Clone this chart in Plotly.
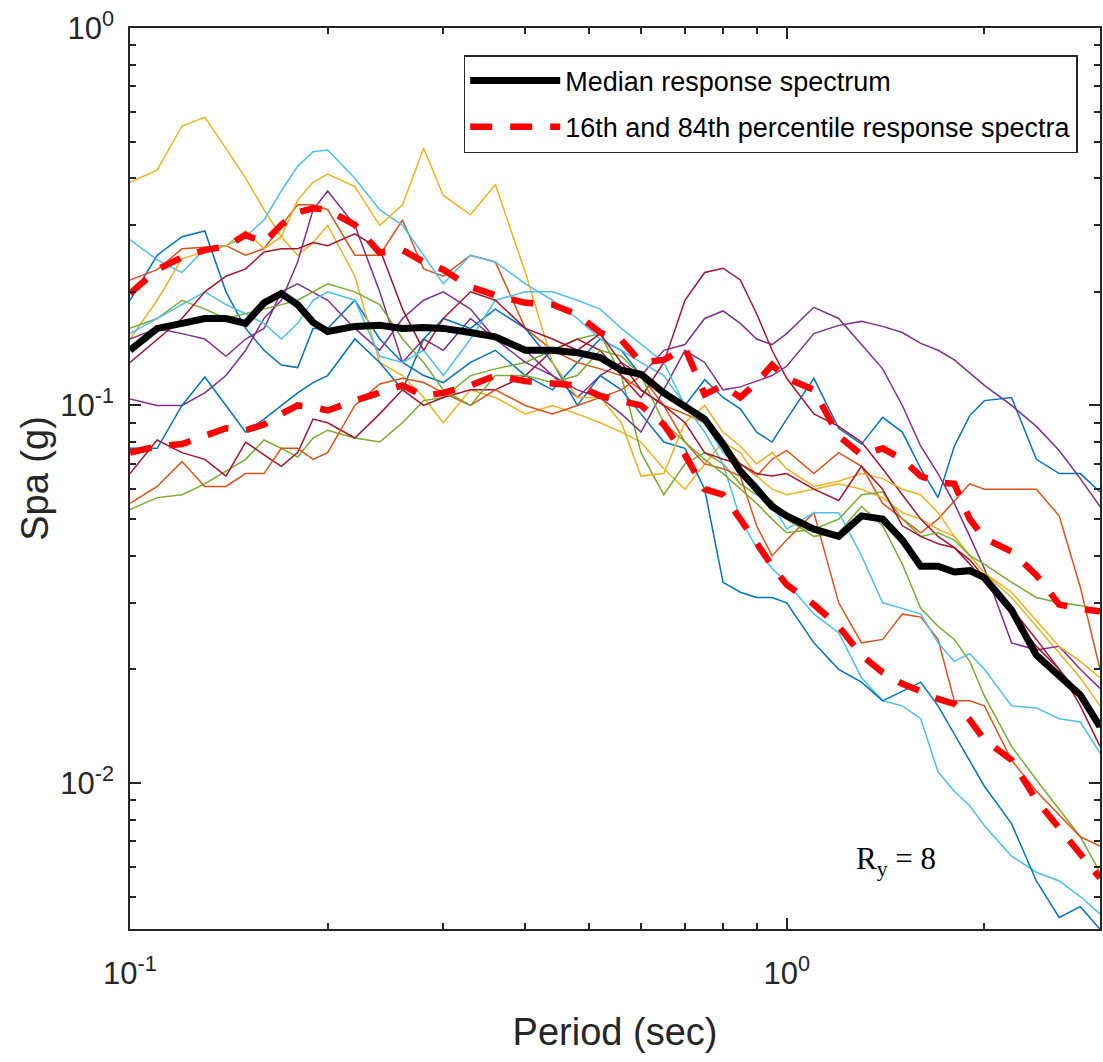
import plotly.graph_objects as go

# periods (sec)
periods = [0.10, 0.11, 0.12, 0.13, 0.14, 0.15, 0.16, 0.17, 0.18, 0.19, 0.20, 0.22, 0.24, 0.26, 0.28,
           0.30, 0.33, 0.36, 0.40, 0.44, 0.48, 0.52, 0.56, 0.60, 0.65, 0.70, 0.75, 0.80, 0.85, 0.90,
           0.95, 1.0, 1.1, 1.2, 1.3, 1.4, 1.5, 1.6, 1.7, 1.8, 1.9, 2.0, 2.2, 2.4, 2.6, 2.8, 3.0]

# individual record spectra, Spa (g)
rec_b1 = [0.19, 0.25, 0.28, 0.29, 0.20, 0.16, 0.14, 0.128, 0.126, 0.16, 0.16, 0.19, 0.15, 0.13, 0.12,
          0.115, 0.13, 0.14, 0.12, 0.11, 0.13, 0.15, 0.14, 0.12, 0.11, 0.10, 0.117, 0.105, 0.098, 0.085,
          0.080, 0.092, 0.118, 0.087, 0.079, 0.093, 0.085, 0.068, 0.057, 0.078, 0.094, 0.103, 0.105, 0.072, 0.066, 0.066, 0.059]
rec_o1 = [0.215, 0.229, 0.26, 0.262, 0.265, 0.25, 0.26, 0.30, 0.34, 0.34, 0.33, 0.25, 0.25, 0.31, 0.23,
          0.22, 0.25, 0.24, 0.16, 0.14, 0.13, 0.125, 0.12, 0.11, 0.10, 0.095, 0.09, 0.08, 0.07, 0.065,
          0.072, 0.076, 0.066, 0.075, 0.069, 0.055, 0.050, 0.046, 0.050, 0.056, 0.062, 0.060, 0.060, 0.060, 0.051, 0.033, 0.020]
rec_y1 = [0.39, 0.42, 0.55, 0.58, 0.48, 0.40, 0.33, 0.28, 0.25, 0.27, 0.30, 0.22, 0.13, 0.12, 0.105,
          0.09, 0.11, 0.105, 0.095, 0.10, 0.095, 0.09, 0.085, 0.08, 0.068, 0.06, 0.07, 0.08, 0.075, 0.065,
          0.060, 0.058, 0.060, 0.062, 0.060, 0.057, 0.052, 0.050, 0.047, 0.045, 0.040, 0.036, 0.031, 0.026, 0.022, 0.019, 0.016]
rec_p1 = [0.104, 0.10, 0.10, 0.108, 0.12, 0.14, 0.17, 0.19, 0.24, 0.33, 0.37, 0.30, 0.20, 0.13, 0.15,
          0.14, 0.17, 0.15, 0.14, 0.12, 0.105, 0.12, 0.13, 0.12, 0.14, 0.145, 0.17, 0.178, 0.165, 0.15,
          0.145, 0.155, 0.182, 0.17, 0.145, 0.125, 0.10, 0.078, 0.066, 0.055, 0.045, 0.037, 0.0235, 0.0225, 0.023, 0.020, 0.0178]
rec_g1 = [0.053, 0.057, 0.058, 0.062, 0.067, 0.072, 0.081, 0.077, 0.073, 0.082, 0.086, 0.082, 0.080, 0.090, 0.103,
          0.105, 0.12, 0.125, 0.13, 0.14, 0.15, 0.155, 0.12, 0.075, 0.058, 0.07, 0.075, 0.07, 0.062, 0.058,
          0.056, 0.050, 0.045, 0.046, 0.054, 0.048, 0.038, 0.029, 0.026, 0.024, 0.021, 0.017, 0.0125, 0.0102, 0.0085, 0.0072, 0.0058]
rec_c1 = [0.275, 0.243, 0.225, 0.26, 0.265, 0.28, 0.31, 0.37, 0.43, 0.47, 0.475, 0.40, 0.33, 0.30, 0.25,
          0.21, 0.25, 0.24, 0.21, 0.19, 0.17, 0.15, 0.14, 0.13, 0.12, 0.10, 0.085, 0.07, 0.05, 0.042,
          0.037, 0.034, 0.028, 0.025, 0.019, 0.0165, 0.016, 0.0148, 0.0107, 0.0095, 0.0087, 0.0077, 0.0064, 0.0058, 0.0055, 0.0050, 0.0045]
rec_r1 = [0.066, 0.081, 0.075, 0.072, 0.065, 0.08, 0.074, 0.069, 0.075, 0.092, 0.09, 0.082, 0.095, 0.11, 0.10,
          0.105, 0.11, 0.11, 0.12, 0.14, 0.15, 0.14, 0.12, 0.105, 0.13, 0.19, 0.225, 0.231, 0.215, 0.175,
          0.14, 0.118, 0.095, 0.088, 0.080, 0.068, 0.058, 0.050, 0.045, 0.042, 0.039, 0.035, 0.029, 0.024, 0.020, 0.016, 0.0125]
rec_b2 = [0.077, 0.077, 0.10, 0.119, 0.10, 0.085, 0.092, 0.10, 0.108, 0.115, 0.12, 0.15, 0.13, 0.11, 0.15,
          0.17, 0.16, 0.18, 0.16, 0.13, 0.10, 0.12, 0.11, 0.095, 0.08, 0.077, 0.06, 0.034, 0.032, 0.031,
          0.031, 0.030, 0.0235, 0.020, 0.0185, 0.0165, 0.0175, 0.0185, 0.016, 0.0135, 0.0115, 0.0098, 0.0078, 0.0055, 0.0044, 0.0047, 0.0041]
rec_o2 = [0.055, 0.061, 0.071, 0.061, 0.061, 0.066, 0.066, 0.077, 0.077, 0.072, 0.075, 0.10, 0.114, 0.118, 0.115,
          0.108, 0.10, 0.11, 0.10, 0.095, 0.10, 0.105, 0.11, 0.12, 0.10, 0.08, 0.07, 0.068, 0.065, 0.048,
          0.040, 0.044, 0.052, 0.030, 0.0235, 0.024, 0.028, 0.0275, 0.024, 0.0165, 0.0165, 0.016, 0.0115, 0.0095, 0.0082, 0.0072, 0.0068]
rec_y2 = [0.15, 0.19, 0.245, 0.255, 0.265, 0.29, 0.26, 0.28, 0.35, 0.39, 0.41, 0.38, 0.30, 0.34, 0.48,
          0.36, 0.32, 0.385, 0.225, 0.13, 0.105, 0.105, 0.09, 0.065, 0.066, 0.09, 0.10, 0.085, 0.078, 0.07,
          0.075, 0.068, 0.061, 0.063, 0.066, 0.064, 0.060, 0.058, 0.052, 0.045, 0.040, 0.036, 0.032, 0.027, 0.023, 0.021, 0.019]
rec_p2 = [0.15, 0.16, 0.155, 0.15, 0.135, 0.15, 0.16, 0.20, 0.21, 0.20, 0.19, 0.16, 0.14, 0.17, 0.19,
          0.20, 0.18, 0.15, 0.13, 0.12, 0.11, 0.105, 0.095, 0.085, 0.11, 0.14, 0.13, 0.11, 0.112, 0.116,
          0.12, 0.127, 0.155, 0.163, 0.167, 0.162, 0.156, 0.146, 0.14, 0.132, 0.122, 0.113, 0.100, 0.088, 0.076, 0.064, 0.054]
rec_g2 = [0.16, 0.17, 0.19, 0.18, 0.17, 0.175, 0.18, 0.185, 0.19, 0.20, 0.21, 0.20, 0.185, 0.15, 0.13,
          0.11, 0.10, 0.12, 0.12, 0.115, 0.12, 0.14, 0.135, 0.12, 0.09, 0.08, 0.072, 0.066, 0.06, 0.055,
          0.050, 0.046, 0.047, 0.050, 0.058, 0.059, 0.050, 0.045, 0.046, 0.044, 0.040, 0.038, 0.034, 0.031, 0.030, 0.0295, 0.0287]
rec_c2 = [0.155, 0.17, 0.185, 0.20, 0.185, 0.175, 0.165, 0.15, 0.165, 0.19, 0.20, 0.19, 0.135, 0.13, 0.14,
          0.12, 0.15, 0.19, 0.20, 0.20, 0.19, 0.18, 0.16, 0.145, 0.13, 0.10, 0.09, 0.075, 0.068, 0.062,
          0.055, 0.047, 0.052, 0.052, 0.040, 0.030, 0.029, 0.028, 0.0235, 0.021, 0.022, 0.020, 0.016, 0.0158, 0.0148, 0.0145, 0.012]
rec_r2 = [0.13, 0.15, 0.17, 0.20, 0.22, 0.23, 0.255, 0.26, 0.26, 0.27, 0.265, 0.285, 0.26, 0.18, 0.14,
          0.17, 0.20, 0.19, 0.16, 0.15, 0.14, 0.155, 0.13, 0.11, 0.10, 0.09, 0.075, 0.072, 0.07, 0.066,
          0.065, 0.066, 0.060, 0.056, 0.069, 0.060, 0.048, 0.045, 0.043, 0.042, 0.038, 0.034, 0.028, 0.023, 0.020, 0.017, 0.014]

records = [rec_b1, rec_o1, rec_y1, rec_p1, rec_g1, rec_c1, rec_r1,
           rec_b2, rec_o2, rec_y2, rec_p2, rec_g2, rec_c2, rec_r2]

median = [0.140, 0.160, 0.165, 0.170, 0.170, 0.165, 0.187, 0.198, 0.185, 0.166, 0.157, 0.162, 0.163, 0.160, 0.161,
          0.160, 0.156, 0.152, 0.140, 0.140, 0.138, 0.134, 0.124, 0.121, 0.108, 0.100, 0.092, 0.079, 0.067, 0.060,
          0.054, 0.051, 0.047, 0.045, 0.051, 0.050, 0.044, 0.0375, 0.0375, 0.0362, 0.0365, 0.0350, 0.0287, 0.0218, 0.0193, 0.0171, 0.0141]
p84 = [0.198, 0.229, 0.247, 0.258, 0.264, 0.283, 0.270, 0.301, 0.325, 0.333, 0.330, 0.301, 0.254, 0.258, 0.240,
       0.229, 0.206, 0.196, 0.187, 0.185, 0.174, 0.156, 0.149, 0.130, 0.132, 0.142, 0.107, 0.113, 0.105, 0.115,
       0.128, 0.118, 0.110, 0.083, 0.074, 0.077, 0.072, 0.065, 0.0625, 0.062, 0.050, 0.0445, 0.041, 0.0355, 0.0297, 0.0289, 0.0285]
p16 = [0.075, 0.078, 0.079, 0.083, 0.087, 0.086, 0.089, 0.095, 0.100, 0.099, 0.097, 0.103, 0.108, 0.113, 0.106,
       0.108, 0.113, 0.120, 0.116, 0.115, 0.113, 0.106, 0.103, 0.100, 0.089, 0.074, 0.060, 0.058, 0.050, 0.043,
       0.0376, 0.0335, 0.0297, 0.0260, 0.0218, 0.0196, 0.0183, 0.0175, 0.0167, 0.0162, 0.0147, 0.0130, 0.0115, 0.0090, 0.0076, 0.0065, 0.0056]

line_colors = ['#0072BD', '#D95319', '#EDB120', '#7E2F8E', '#77AC30', '#4DBEEE', '#A2142F']
ink = '#262626'
sans = 'Liberation Sans, Arial'

fig = go.Figure()

for i, rec in enumerate(records):
    fig.add_trace(go.Scatter(x=periods, y=rec, mode='lines', showlegend=False,
                             line=dict(color=line_colors[i % 7], width=1.5)))

fig.add_trace(go.Scatter(x=periods, y=p84, mode='lines', name='16th and 84th percentile response spectra',
                         legendgroup='pct', legendrank=2,
                         line=dict(color='#FF0000', width=6.5, dash='22px,18px')))
fig.add_trace(go.Scatter(x=periods, y=p16, mode='lines', showlegend=False, legendgroup='pct',
                         line=dict(color='#FF0000', width=6.5, dash='22px,18px')))
fig.add_trace(go.Scatter(x=periods, y=median, mode='lines', name='Median response spectrum',
                         legendgroup='median', legendrank=1,
                         line=dict(color='black', width=7)))

x_minor = [0.2, 0.3, 0.4, 0.5, 0.6, 0.7, 0.8, 0.9, 2, 3]
y_minor = [0.005, 0.006, 0.007, 0.008, 0.009, 0.02, 0.03, 0.04, 0.05, 0.06, 0.07, 0.08, 0.09,
           0.2, 0.3, 0.4, 0.5, 0.6, 0.7, 0.8, 0.9]

axis_common = dict(showgrid=False, zeroline=False, showline=True, linecolor=ink, linewidth=1.5,
                   mirror='ticks', ticks='inside', ticklen=11, tickwidth=1.5, tickcolor=ink,
                   automargin=False, tickfont=dict(family=sans, size=31, color=ink))

fig.update_xaxes(type='log', range=[-1, 0.4771], tickvals=[0.1, 1],
                 ticktext=['10<sup>-1</sup>', '10<sup>0</sup>'], ticklabelstandoff=16,
                 minor=dict(tickvals=x_minor, ticks='inside', ticklen=6, tickwidth=1.5, tickcolor=ink),
                 title=dict(text='Period (sec)', standoff=28, font=dict(family=sans, size=38, color=ink)),
                 **axis_common)
fig.update_yaxes(type='log', range=[-2.387, 0], tickvals=[0.01, 0.1, 1],
                 ticktext=['10<sup>-2</sup>', '10<sup>-1</sup>', '10<sup>0</sup>'], ticklabelstandoff=8,
                 minor=dict(tickvals=y_minor, ticks='inside', ticklen=6, tickwidth=1.5, tickcolor=ink),
                 title=dict(text='Spa (g)', standoff=0, font=dict(family=sans, size=38, color=ink)),
                 **axis_common)

fig.add_annotation(x=0.833, y=0.051, xref='paper', yref='paper', showarrow=False,
                   text='R<sub>y</sub> = 8',
                   font=dict(family='Liberation Serif, Times New Roman', size=31, color='black'))

fig.update_layout(
    width=1103, height=1062,
    margin=dict(l=130, r=3, t=28, b=133, autoexpand=False),
    paper_bgcolor='white', plot_bgcolor='white',
    legend=dict(x=0.977, y=0.970, xanchor='right', yanchor='top',
                bgcolor='white', bordercolor=ink, borderwidth=1.5,
                font=dict(family=sans, size=27, color='black'),
                itemwidth=90, traceorder='grouped', tracegroupgap=8),
)

# page body has a default 8px margin; drop it so the figure sits at the window origin
fig.write_html('out.html', config={'displayModeBar': False},
               post_script="document.body.style.margin='0';document.body.style.overflow='hidden';")
